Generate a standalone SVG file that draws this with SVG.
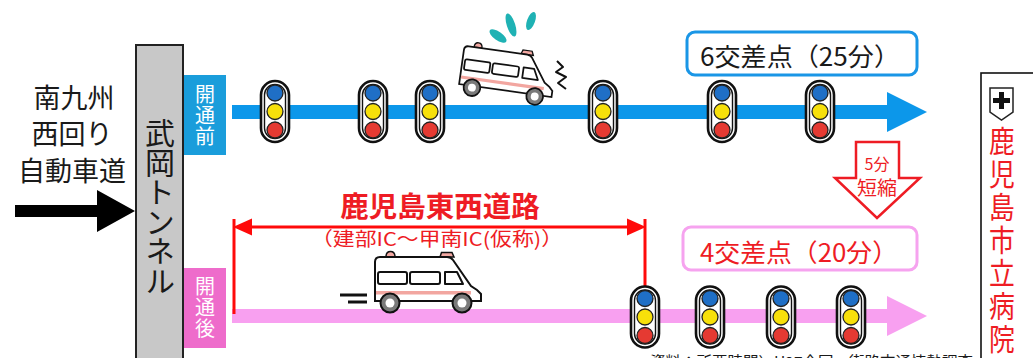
<svg xmlns="http://www.w3.org/2000/svg" xmlns:xlink="http://www.w3.org/1999/xlink" width="1033" height="358" viewBox="0 0 1033 358">
  <style>
    text { font-family: "Noto Sans CJK JP", "Noto Sans", sans-serif; }
    .blk { fill: #1a1a1a; }
    .red { fill: #ee1c24; }
    .wht { fill: #ffffff; }
    .mid { text-anchor: middle; }
    .vert { writing-mode: vertical-rl; text-orientation: upright; }
    .dim { stroke: #ff0a0a; stroke-width: 3; fill: none; }
    .ol { stroke: #111; stroke-width: 2; }
  </style>
  <defs>
    <!-- traffic signal, centred on its middle lamp -->
    <g id="signal">
      <rect x="-14" y="-30.5" width="28" height="61" rx="14" fill="#fff" stroke="#111" stroke-width="2.6"/>
      <rect x="-10.5" y="-27" width="21" height="54" rx="10.5" fill="none" stroke="#111" stroke-width="1.4"/>
      <circle cx="0" cy="-18.5" r="8" fill="#1f6fc6" stroke="#222" stroke-width="1.3"/>
      <circle cx="0" cy="0" r="8" fill="#f7e00a" stroke="#222" stroke-width="1.3"/>
      <circle cx="0" cy="18.5" r="8" fill="#e53a32" stroke="#222" stroke-width="1.3"/>
    </g>
    <!-- ambulance, local origin at upper left -->
    <g id="ambulance">
      <path d="M16,7 Q16,1.5 20.5,1.5 Q25,1.5 25,7 Z" fill="#f3a8a2" stroke="#111" stroke-width="1.5"/>
      <path d="M70,7 L71.5,2.5 L82,2.5 L84,7 Z" fill="#f3a8a2" stroke="#111" stroke-width="1.5"/>
      <path d="M5,51 L5,12 Q5,7 10,7 L77,7 Q81,7 83,10 L101,36 L107,40 L111,44 L111,51 Z" fill="#fff" class="ol"/>
      <rect x="6" y="41" width="95" height="3.5" fill="#f2a6a0"/>
      <rect x="8" y="22" width="29" height="12" rx="2" fill="#fff" class="ol"/>
      <rect x="40" y="22" width="30" height="12" rx="2" fill="#fff" class="ol"/>
      <path d="M75,22 L87,22 L93,34 L75,34 Z" fill="#fff" stroke="#111" stroke-width="2" stroke-linejoin="round"/>
      <circle cx="20" cy="53" r="9.5" fill="#7a7a7a" class="ol"/>
      <circle cx="20" cy="53" r="4.5" fill="#fff"/>
      <circle cx="92" cy="53" r="9.5" fill="#7a7a7a" class="ol"/>
      <circle cx="92" cy="53" r="4.5" fill="#fff"/>
    </g>
  </defs>

  <!-- connectors: approach arrow, route arrows, span marker -->
  <g id="connectors">
    <polygon points="15,205 97,205 97,190 135,211 97,232 97,217 15,217" fill="#000"/>
    <rect x="232" y="105" width="656" height="14" fill="#0c97ea"/>
    <polygon points="887,92 927,112 887,132" fill="#0c97ea"/>
    <rect x="232" y="309" width="656" height="14" fill="#f8a0f0"/>
    <polygon points="887,296 927,316 887,336" fill="#f8a0f0"/>
    <g id="span-marker">
      <line class="dim" x1="244" y1="227" x2="636" y2="227"/>
      <line class="dim" x1="234" y1="219" x2="234" y2="314"/>
      <line class="dim" x1="645" y1="219" x2="645" y2="288"/>
      <polygon points="233,227 252,218.5 252,235.5" fill="#ff0a0a"/>
      <polygon points="646,227 627,218.5 627,235.5" fill="#ff0a0a"/>
    </g>
    <g id="shorten-arrow">
      <path d="M856,142 L899,142 L899,178 L920,178 L877,218 L835,178 L856,178 Z" fill="#fff" stroke="#ee1c24" stroke-width="2.5"/>
      <text x="877" y="170" font-size="16" class="red mid">5分</text>
      <text x="877" y="195" font-size="19" class="red mid" textLength="40" lengthAdjust="spacingAndGlyphs">短縮</text>
    </g>
  </g>

  <!-- expressway label -->
  <g id="expressway">
    <text x="74" y="108" font-size="27" class="blk mid">南九州</text>
    <text x="72" y="144" font-size="27" class="blk mid">西回り</text>
    <text x="72" y="181" font-size="27" class="blk mid">自動車道</text>
  </g>

  <!-- tunnel -->
  <g id="tunnel">
    <rect x="136" y="45" width="47" height="330" fill="#c8c8c8" stroke="#222" stroke-width="2"/>
    <text x="160" y="118" font-size="30" letter-spacing="-0.5" class="blk vert">武岡トンネル</text>
  </g>

  <!-- before / after tags -->
  <g id="tag-before">
    <rect x="184" y="75" width="42" height="80" fill="#1a9ddb"/>
    <text x="205" y="84" font-size="20" letter-spacing="1" class="wht vert">開通前</text>
  </g>
  <g id="tag-after">
    <rect x="184" y="268" width="42" height="80" fill="#ee6ccb"/>
    <text x="205" y="276" font-size="20" letter-spacing="1" class="wht vert">開通後</text>
  </g>

  <!-- signals on the current route -->
  <g id="signals-before">
    <use xlink:href="#signal" transform="translate(275,111.5)"/>
    <use xlink:href="#signal" transform="translate(373,111.5)"/>
    <use xlink:href="#signal" transform="translate(430,111.5)"/>
    <use xlink:href="#signal" transform="translate(603,111.5)"/>
    <use xlink:href="#signal" transform="translate(722,111.5)"/>
    <use xlink:href="#signal" transform="translate(820,111.5)"/>
  </g>

  <!-- signals on the new route -->
  <g id="signals-after">
    <use xlink:href="#signal" transform="translate(645,317)"/>
    <use xlink:href="#signal" transform="translate(710,317)"/>
    <use xlink:href="#signal" transform="translate(781,317)"/>
    <use xlink:href="#signal" transform="translate(851,317)"/>
  </g>

  <!-- ambulance stuck in traffic -->
  <g id="ambulance-before">
    <ellipse cx="498" cy="36" rx="10" ry="4.2" fill="#1fb2b4" transform="rotate(35 498 36)"/>
    <ellipse cx="511" cy="25" rx="12" ry="4.2" fill="#1fb2b4" transform="rotate(72 511 25)"/>
    <ellipse cx="531" cy="21" rx="9.5" ry="4" fill="#1fb2b4" transform="rotate(110 531 21)"/>
    <use xlink:href="#ambulance" transform="translate(461,39) rotate(8) scale(0.88)"/>
    <polyline points="557,61 563,67 556,72 566,77 558,83 566,89" fill="none" stroke="#111" stroke-width="2" stroke-linejoin="round"/>
  </g>

  <!-- ambulance on the new road -->
  <g id="ambulance-after">
    <line x1="340" y1="295" x2="367" y2="295" stroke="#111" stroke-width="3"/>
    <line x1="348" y1="302" x2="367" y2="302" stroke="#111" stroke-width="3"/>
    <use xlink:href="#ambulance" transform="translate(370,250)"/>
  </g>

  <!-- new road name -->
  <g id="road-name">
    <text x="440" y="216.5" font-size="28.5" font-weight="bold" class="red mid">鹿児島東西道路</text>
    <text x="437" y="246" font-size="19" class="red mid" textLength="252" lengthAdjust="spacingAndGlyphs">（建部IC～甲南IC(仮称)）</text>
  </g>

  <!-- travel time boxes -->
  <g id="time-before">
    <rect x="687" y="32" width="230" height="43" rx="8" fill="#fff" stroke="#1a96e6" stroke-width="3"/>
    <text x="800" y="66" font-size="25" class="blk mid" textLength="200" lengthAdjust="spacingAndGlyphs">6交差点（25分）</text>
  </g>
  <g id="time-after">
    <rect x="683" y="227" width="234" height="43" rx="8" fill="#fff" stroke="#f6a3ef" stroke-width="3"/>
    <text x="799" y="262" font-size="25" class="red mid" textLength="198" lengthAdjust="spacingAndGlyphs">4交差点（20分）</text>
  </g>

  <!-- destination -->
  <g id="hospital">
    <rect x="981" y="73" width="70" height="300" fill="#fff" stroke="#111" stroke-width="1.6"/>
    <path d="M990,88 L1013,88 L1013,112 L1001.5,120 L990,112 Z" fill="#fff" stroke="#222" stroke-width="1.5"/>
    <path d="M999,92 L1004,92 L1004,98 L1010,98 L1010,103 L1004,103 L1004,109 L999,109 L999,103 L993,103 L993,98 L999,98 Z" fill="#111"/>
    <g transform="translate(1002,0) scale(0.86,1) translate(-1002,0)">
      <text x="1002" y="126" font-size="30" letter-spacing="3" class="red vert">鹿児島市立病院</text>
    </g>
  </g>

  <!-- source note -->
  <text x="650" y="368" font-size="15.5" class="blk">資料：所要時間）H27全国・街路交通情勢調査</text>
</svg>
